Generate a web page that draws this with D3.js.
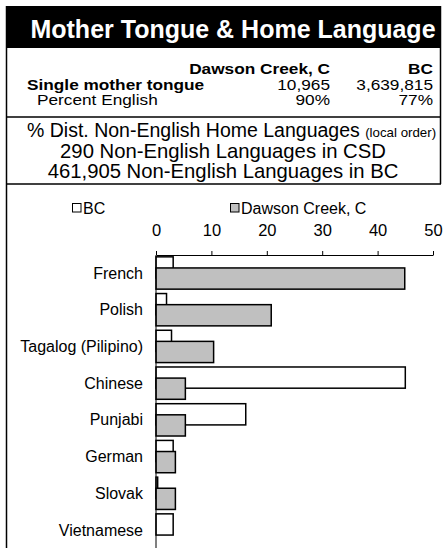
<!DOCTYPE html>
<html>
<head>
<meta charset="utf-8">
<script src="https://cdn.jsdelivr.net/npm/d3@7/dist/d3.min.js"></script>
<style>
  html, body { margin: 0; padding: 0; background: #fff; }
  svg { display: block; font-family: "Liberation Sans", Arial, sans-serif; }
</style>
</head>
<body>
<svg id="chart" width="445" height="548"></svg>
<script>
const title = "Mother Tongue & Home Language";
const tableHeaders = ["Dawson Creek, C", "BC"];
const tableRows = ["Single mother tongue", "Percent English"];
const tableDawson = ["10,965", "90%"];
const tableBC = ["3,639,815", "77%"];
const infoLines = ["290 Non-English Languages in CSD", "461,905 Non-English Languages in BC"];
const seriesNames = ["BC", "Dawson Creek, C"];
const categories = ["French", "Polish", "Tagalog (Pilipino)", "Chinese", "Punjabi", "German", "Slovak", "Vietnamese"];
const bcValues = [3.1, 1.9, 2.8, 45.0, 16.2, 3.1, 0.3, 3.1];
const dawsonValues = [44.9, 20.8, 10.4, 5.3, 5.3, 3.5, 3.5, 0];
const tickValues = [0, 10, 20, 30, 40, 50];

const svg = d3.select("#chart");

// Outer frame
svg.append("rect").attr("x", 6).attr("y", 6).attr("width", 435).attr("height", 42).attr("fill", "#000");
svg.append("line").attr("x1", 6.5).attr("x2", 6.5).attr("y1", 6).attr("y2", 548).attr("stroke", "#000").attr("stroke-width", 1.5);
svg.append("line").attr("x1", 440.5).attr("x2", 440.5).attr("y1", 6).attr("y2", 184).attr("stroke", "#000").attr("stroke-width", 1.5);
svg.append("line").attr("x1", 6).attr("x2", 441).attr("y1", 117).attr("y2", 117).attr("stroke", "#000").attr("stroke-width", 1.5);
svg.append("line").attr("x1", 6).attr("x2", 441).attr("y1", 184).attr("y2", 184).attr("stroke", "#000").attr("stroke-width", 1.5);

svg.append("text").attr("x", 233).attr("y", 38).attr("text-anchor", "middle")
  .attr("fill", "#fff").attr("font-weight", "bold").attr("font-size", 25).text(title);

// Table text: slightly wide glyphs, as in the reference
const sx = 1.19;
function wideText(px, py, txt, opts) {
  return svg.append("text")
    .attr("transform", `translate(${px},${py}) scale(${sx},1)`)
    .attr("text-anchor", opts.anchor || "start")
    .attr("font-weight", opts.bold ? "bold" : "normal")
    .attr("font-size", 14.5)
    .text(txt);
}
wideText(330, 74, tableHeaders[0], { anchor: "end", bold: true });
wideText(433, 74, tableHeaders[1], { anchor: "end", bold: true });
const rowY = [89.5, 105];
const rowX = [27, 37];
tableRows.forEach((r, i) => {
  wideText(rowX[i], rowY[i], r, { bold: i === 0 });
  wideText(330, rowY[i], tableDawson[i], { anchor: "end" });
  wideText(433, rowY[i], tableBC[i], { anchor: "end" });
});

const t1 = svg.append("text").attr("x", 27).attr("y", 137).attr("font-size", 19.5);
t1.append("tspan").text("% Dist. Non-English Home Languages ");
t1.append("tspan").attr("font-size", 13.3).text("(local order)");
infoLines.forEach((l, i) => {
  svg.append("text").attr("x", 223).attr("y", 158 + i * 20).attr("text-anchor", "middle").attr("font-size", 20.3).text(l);
});

// Legend
const legendX = [72, 230];
const fills = ["#fff", "#c0c0c0"];
seriesNames.forEach((s, i) => {
  svg.append("rect").attr("x", legendX[i] + 0.5).attr("y", 203.5).attr("width", 8.5).attr("height", 8.5)
    .attr("fill", fills[i]).attr("stroke", "#000").attr("stroke-width", 1);
  svg.append("text").attr("x", legendX[i] + 11).attr("y", 214).attr("font-size", 16).text(s);
});

// Chart
const x = d3.scaleLinear().domain([0, 50]).range([156, 433]);
const y = d3.scaleBand().domain(categories).range([255, 548]).paddingInner(0.12).paddingOuter(0.05);

const xAxis = d3.axisTop(x).tickValues(tickValues).tickSizeInner(4).tickSizeOuter(0).tickPadding(15);
const gx = svg.append("g").attr("transform", "translate(0,255)").call(xAxis);
gx.select(".domain").attr("stroke", "#000");
gx.selectAll("text").attr("font-size", 16.5).attr("font-family", "Liberation Sans, Arial, sans-serif").attr("fill", "#000");

const bw = y.bandwidth();
const h = bw * 21 / 32;

const g = svg.append("g");
categories.forEach((c, i) => {
  const y0 = y(c);
  if (bcValues[i] > 0) {
    g.append("rect").attr("x", x(0)).attr("y", y0).attr("width", x(bcValues[i]) - x(0)).attr("height", h)
      .attr("fill", fills[0]).attr("stroke", "#000").attr("stroke-width", 1.5);
  }
  if (dawsonValues[i] > 0) {
    g.append("rect").attr("x", x(0)).attr("y", y0 + bw - h).attr("width", x(dawsonValues[i]) - x(0)).attr("height", h)
      .attr("fill", fills[1]).attr("stroke", "#000").attr("stroke-width", 1.5);
  }
  svg.append("text").attr("x", 143).attr("y", y0 + bw / 2).attr("dy", "0.35em").attr("text-anchor", "end")
    .attr("font-size", 16).text(c);
});

svg.append("line").attr("x1", x(0)).attr("x2", x(0)).attr("y1", 255).attr("y2", 548).attr("stroke", "#000").attr("stroke-width", 1);
</script>
</body>
</html>
